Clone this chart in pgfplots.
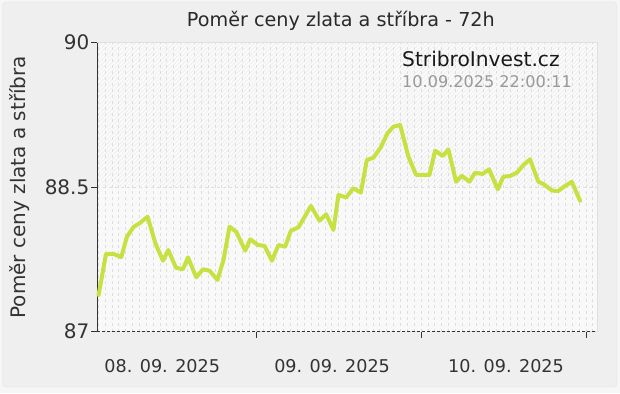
\documentclass[border=0pt]{standalone}
\usepackage{fontspec}
\setmainfont{DejaVu Sans}
\usepackage{pgfplots}
\pgfplotsset{compat=1.18}
\usetikzlibrary{patterns.meta}
\definecolor{bgout}{HTML}{F6F6F6}
\definecolor{bg}{HTML}{EFEFEF}
\definecolor{frame}{HTML}{E2E2E2}
\definecolor{txt}{HTML}{333333}
\definecolor{linecol}{RGB}{198,225,66}
\definecolor{gridc}{HTML}{DEDEDE}
\definecolor{topfill}{HTML}{F3F3F3}
\definecolor{botfill}{HTML}{F8F8F8}
\definecolor{botstripe}{HTML}{FBFBFB}
\definecolor{bordc}{HTML}{E0E0E0}
\pgfplotstableread{
h v
1.06 87.381
2.14 87.807
3.24 87.807
4.36 87.774
5.19 87.986
6.15 88.087
7.13 88.131
8.19 88.194
9.31 87.921
10.43 87.737
11.20 87.848
12.32 87.664
13.34 87.648
14.07 87.772
15.27 87.565
16.25 87.648
17.21 87.633
18.37 87.537
19.24 87.744
20.12 88.090
21.09 88.038
22.40 87.841
23.13 87.959
24.25 87.900
25.21 87.890
26.28 87.737
27.24 87.900
28.22 87.882
29.05 88.048
30.15 88.084
31.13 88.201
31.96 88.305
33.21 88.152
34.18 88.219
35.24 88.056
35.97 88.419
37.09 88.393
38.15 88.489
39.23 88.443
40.10 88.782
41.06 88.806
42.14 88.914
43.10 89.059
43.97 89.128
44.95 89.146
46.15 88.817
47.27 88.627
48.25 88.627
49.21 88.627
50.04 88.879
51.16 88.824
51.97 88.893
53.09 88.557
53.92 88.619
55.03 88.557
55.85 88.650
56.97 88.637
57.89 88.686
59.16 88.478
59.97 88.609
60.95 88.616
61.92 88.650
62.88 88.730
63.85 88.790
65.06 88.557
65.79 88.533
67.10 88.464
67.97 88.461
68.95 88.512
69.92 88.557
71.13 88.360
}\ratio
\begin{document}
\begin{tikzpicture}
\useasboundingbox (0pt,0pt) rectangle (620pt,393pt);
\fill[bgout] (0pt,0pt) rectangle (620pt,393pt);
\filldraw[fill=bg, draw=frame, rounded corners=4pt] (2.5pt,6pt) rectangle (617pt,391pt);
\fill[topfill] (97pt,205.8pt) rectangle (597pt,350.3pt);
\fill[pattern={Lines[angle=45,distance=3pt,line width=0.9pt]}, pattern color=white] (97pt,205.8pt) rectangle (597pt,350.3pt);
\fill[botfill] (97pt,61.3pt) rectangle (597pt,205.8pt);
\fill[pattern={Lines[angle=45,distance=3pt,line width=0.9pt]}, pattern color=botstripe] (97pt,61.3pt) rectangle (597pt,205.8pt);
\node[anchor=base west, inner sep=0pt, font=\fontsize{19.2}{22}\selectfont, text=txt!80!black] at (186.7pt,366.3pt) {Poměr ceny zlata a stříbra - 72h};
\begin{axis}[
  at={(97pt,61.3pt)}, anchor=south west,
  scale only axis, width=500pt, height=289pt,
  xmin=0.83, xmax=73.6, ymin=87, ymax=90,
  axis lines=left,
  axis line style={-, draw=txt, line width=0.8pt},
  x axis line style={dash pattern=on 3pt off 2pt},
  tick align=outside,
  major tick length=6pt,
  tick style={draw=txt, line width=0.8pt},
  ytick={87,88.5,90}, yticklabels={87,88.5,90},
  yticklabel style={font=\fontsize{20}{24}\selectfont, text=txt, inner sep=1.5pt},
  xtick={24,48,72}, xticklabels={},
  extra x ticks={10.33,35.05,60.36},
  extra x tick labels={08. 09. 2025,09. 09. 2025,10. 09. 2025},
  extra x tick style={major tick length=0pt, grid=none,
     tick label style={font=\fontsize{17.6}{21}\selectfont, text=txt, anchor=base, inner sep=0pt, yshift=-40.6pt}},
  minor xtick={1,2,...,73},
  minor tick length=0pt,
  xminorgrids=true, xmajorgrids=true,
  minor grid style={gridc, line width=0.8pt, dash pattern=on 3pt off 3pt},
  ymajorgrids=true,
  major grid style={gridc, line width=0.8pt, dash pattern=on 3pt off 3pt},
  ylabel={Poměr ceny zlata a stříbra},
  ylabel style={font=\fontsize{20}{24}\selectfont, text=txt, at={(axis description cs:-0.154,0.5)}, anchor=center},
  clip=false,
]
\draw[bordc, line width=0.8pt] (rel axis cs:0,1) -- (rel axis cs:1,1) -- (rel axis cs:1,0);
\addplot[linecol, line width=4pt, line join=round, line cap=round, mark=none] table[x=h, y=v] {\ratio};
\node[anchor=base west, inner sep=0, font=\fontsize{20.2}{24}\selectfont, text=black!90] at (rel axis cs:0.61,0.917) {StribroInvest.cz};
\node[anchor=base west, inner sep=0, font=\fontsize{16.1}{20}\selectfont, text=black!40] at (rel axis cs:0.61,0.8457) {10.09.2025 22:00:11};
\end{axis}
\end{tikzpicture}
\end{document}
